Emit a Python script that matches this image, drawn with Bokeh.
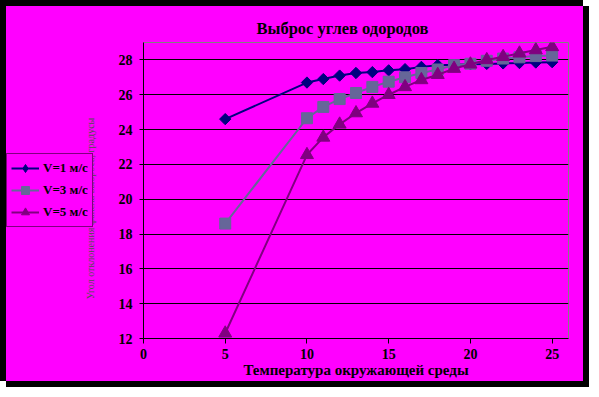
from bokeh.plotting import figure
from bokeh.models import Legend, LegendItem, FixedTicker, Range1d, Label
from bokeh.layouts import row
from bokeh.embed import file_html
from bokeh.resources import INLINE
import math

# ---- data ----
temps = [5, 10, 11, 12, 13, 14, 15, 16, 17, 18, 19, 20, 21, 22, 23, 24, 25]
v1 = [24.6, 26.7, 26.9, 27.1, 27.25, 27.3, 27.4, 27.47, 27.6, 27.7, 27.72, 27.75, 27.77, 27.8, 27.82, 27.85, 27.87]
v3 = [18.6, 24.65, 25.3, 25.75, 26.1, 26.45, 26.75, 27.0, 27.25, 27.45, 27.7, 27.78, 27.95, 28.08, 28.15, 28.22, 28.25]
v5 = [12.3, 22.55, 23.55, 24.3, 24.95, 25.5, 26.0, 26.45, 26.85, 27.15, 27.5, 27.75, 28.0, 28.18, 28.38, 28.57, 28.75]
series_names = ["V=1 м/с", "V=3 м/с", "V=5 м/с"]
x_ticks = [0, 5, 10, 15, 20, 25]
y_ticks = [12, 14, 16, 18, 20, 22, 24, 26, 28]
title_text = "Выброс углев одородов"
x_title = "Температура окружающей среды"
y_title = "Угол отклонения факела выброса, градусы"

FONT = "Liberation Serif"
MAG = "#FF00FF"
colors = ["#000080", "#666699", "#800080"]

EDGE = 6
LEG_W = 97
ROW_H = 381 - EDGE
MAIN_W = 583 - EDGE - LEG_W

# ---- main chart ----
p = figure(width=MAIN_W, height=ROW_H,
           min_border_left=40, min_border_right=15,
           min_border_top=36, min_border_bottom=43,
           x_range=Range1d(0, 26), y_range=Range1d(12, 29),
           output_backend="svg", toolbar_location=None,
           background_fill_color=MAG, border_fill_color=MAG)

p.title.text = title_text
p.title.align = "left"
p.title.offset = 113
p.title.text_font = FONT
p.title.text_font_style = "bold"
p.title.text_font_size = "16.5px"
p.title.text_color = "black"
p.title.standoff = 10

p.outline_line_color = "#808080"
p.outline_line_width = 1
p.xgrid.visible = False
p.ygrid.grid_line_color = "black"
p.ygrid.grid_line_width = 1
p.ygrid.ticker = FixedTicker(ticks=y_ticks)

for ax, ticks in ((p.xaxis[0], x_ticks), (p.yaxis[0], y_ticks)):
    ax.ticker = FixedTicker(ticks=ticks)
    ax.axis_line_color = "black"
    ax.major_tick_line_color = "black"
    ax.minor_tick_line_color = None
    ax.major_tick_in = 0
    ax.major_label_text_font = FONT
    ax.major_label_text_font_style = "bold"
    ax.major_label_text_font_size = "14px"
    ax.major_label_text_color = "black"
    ax.axis_label_text_font = FONT
    ax.axis_label_text_color = "black"
p.xaxis.major_tick_out = 5
p.xaxis.major_label_standoff = 5
p.xaxis.axis_label = x_title
p.xaxis.axis_label_text_font_style = "bold"
p.xaxis.axis_label_text_font_size = "15px"
p.xaxis.axis_label_standoff = 0
p.yaxis.major_tick_out = 4
p.yaxis.major_label_standoff = 7

p.line(temps, v1, line_color=colors[0], line_width=2)
p.scatter(temps, v1, marker="square", angle=math.pi / 4, size=8,
          fill_color=colors[0], line_color=colors[0])
p.line(temps, v3, line_color=colors[1], line_width=2)
p.scatter(temps, v3, marker="square", size=11,
          fill_color=colors[1], line_color=colors[1])
p.line(temps, v5, line_color=colors[2], line_width=2)
p.scatter(temps, v5, marker="triangle", size=13,
          fill_color=colors[2], line_color=colors[2])

# ---- left panel: y title + legend ----
LF_BOTTOM = 29
LF_FRAME_H = ROW_H - LF_BOTTOM
X0, Y0 = -200, -400
lf = figure(width=LEG_W, height=ROW_H, min_border=0, min_border_bottom=LF_BOTTOM,
            x_range=Range1d(X0, X0 + LEG_W), y_range=Range1d(Y0, Y0 + LF_FRAME_H),
            x_axis_location=None, y_axis_location=None,
            output_backend="svg", toolbar_location=None,
            background_fill_color=MAG, border_fill_color=MAG)
lf.outline_line_color = None
lf.grid.visible = False

lf.add_layout(Label(x=X0 + 84, y=Y0 + 152, text=y_title, angle=math.pi / 2,
                    text_align="center", text_baseline="middle",
                    text_font=FONT, text_font_size="10px",
                    text_color="#505050"))

markers = ["diamond", "square", "triangle"]
msizes = [11, 9, 10]
series = [v1, v3, v5]
items = []
for name, col, mk, ms, ys in zip(series_names, colors, markers, msizes, series):
    lr = lf.line(temps, ys, line_color=col, line_width=2)
    mr = lf.scatter(temps, ys, marker=mk, size=ms, fill_color=col, line_color=col)
    items.append(LegendItem(label=name, renderers=[lr, mr]))

legend = Legend(items=items, location="center_left", orientation="vertical",
                background_fill_color=MAG, background_fill_alpha=1,
                border_line_color="black", border_line_width=1,
                padding=4, spacing=2, margin=0,
                glyph_width=28, glyph_height=20, label_height=20,
                label_standoff=4, label_text_font=FONT,
                label_text_font_style="bold", label_text_font_size="13px",
                label_text_color="black")
lf.add_layout(legend, "center")

layout = row(lf, p, spacing=0,
             styles={"border-left": "6px solid black", "border-top": "6px solid black",
                     "background-color": MAG,
                     "box-shadow": "6px 6px 0 0 black"})

open("out.html", "w").write(file_html(layout, INLINE))
